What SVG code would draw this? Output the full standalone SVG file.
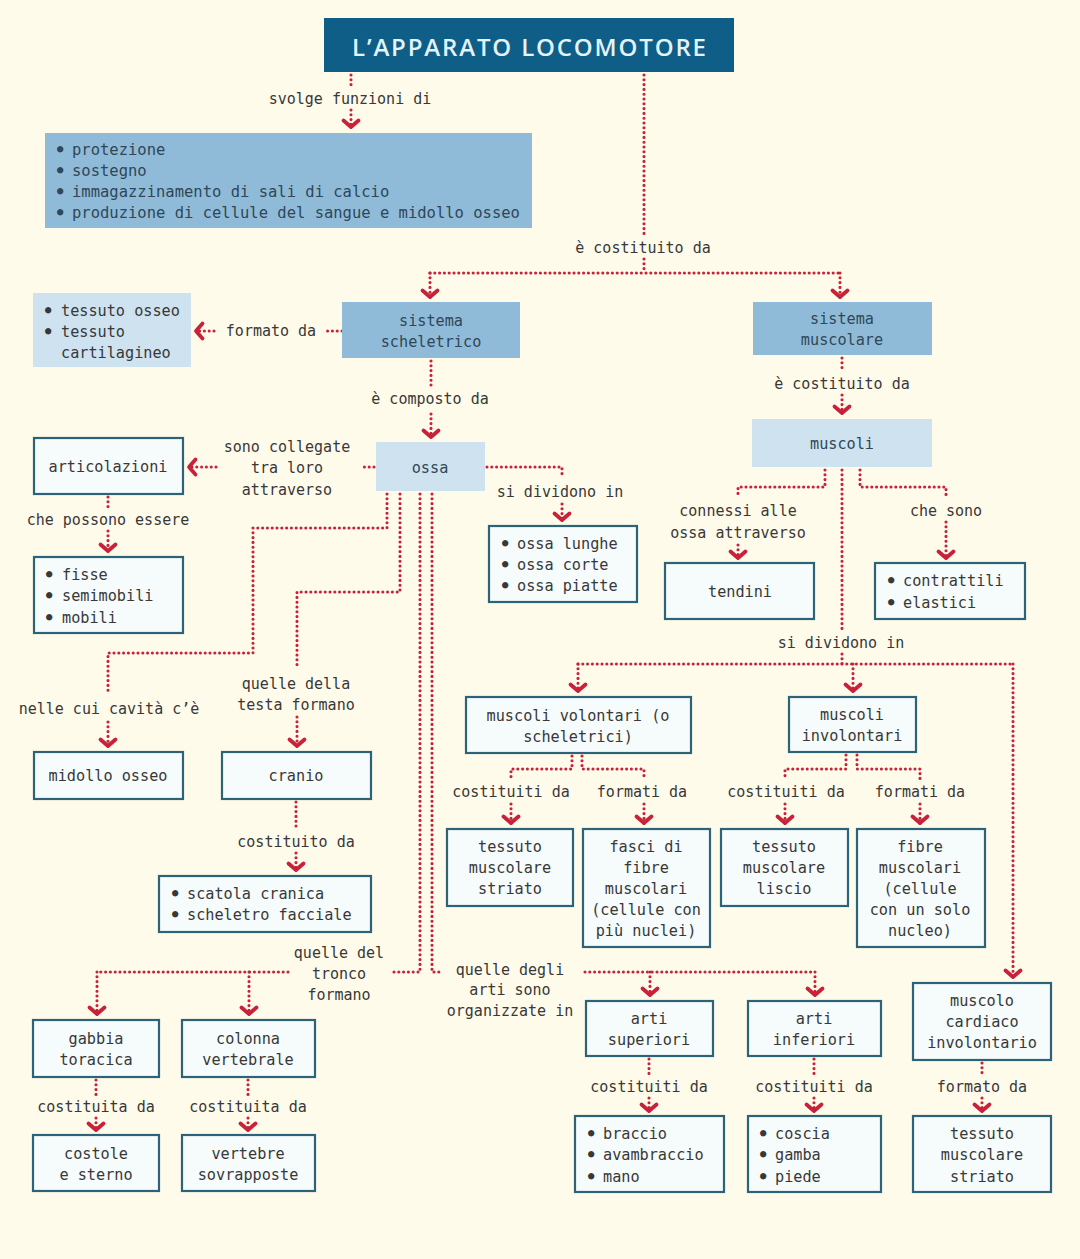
<svg xmlns="http://www.w3.org/2000/svg" width="1080" height="1259" viewBox="0 0 1080 1259">
<style>
.t{font-family:"DejaVu Sans Mono",monospace;font-size:15.2px;fill:#383838}
.lb{font-size:15px}
.m{text-anchor:middle}
.bt{fill:#2f4756}
.bu{font-size:10.5px}
.bw{fill:#f6fbfb;stroke:#2c6378;stroke-width:2.2}
.bm{fill:#8fbbd9}
.bl{fill:#cfe2ef}
.c{fill:none;stroke:#c8213a;stroke-width:3.1;stroke-dasharray:0 4.8;stroke-linecap:round}
.a{marker-end:url(#chev)}
.title{font-family:"Open Sans","DejaVu Sans",sans-serif;font-size:24px;font-weight:600;fill:#e3f3f7;text-anchor:middle}
</style>
<defs>
<marker id="chev" markerUnits="userSpaceOnUse" viewBox="-10 -10 12 20" markerWidth="12" markerHeight="20" refX="0" refY="0" orient="auto" overflow="visible">
<path d="M-7.5,-7.5 L-1,0 L-7.5,7.5" fill="none" stroke="#c8213a" stroke-width="3.8" stroke-dasharray="none" stroke-linecap="round" stroke-linejoin="round"/>
</marker>
</defs>
<rect x="0" y="0" width="1080" height="1259" fill="#fffbea"/>

<g id="connectors">
<path class="c" d="M351,75 L351,88"/>
<path class="c a" d="M351,110 L351,128"/>
<path class="c" d="M644,75 L644,236"/>
<path class="c" d="M644,259 L644,273"/>
<path class="c" d="M430,273 L840,273"/>
<path class="c a" d="M430,273 L430,298"/>
<path class="c a" d="M840,273 L840,298"/>
<path class="c" d="M342,331 L326,331"/>
<path class="c a" d="M214,331 L195,331"/>
<path class="c" d="M431,361 L431,386"/>
<path class="c a" d="M431,414 L431,438"/>
<path class="c" d="M374,467 L360,467"/>
<path class="c a" d="M216,467 L188,467"/>
<path class="c" d="M487,467 L562,467 L562,478"/>
<path class="c a" d="M562,504 L562,521"/>
<path class="c" d="M108,497 L108,508"/>
<path class="c a" d="M108,531 L108,552"/>
<path class="c" d="M387,494 L387,528 L253,528 L253,653 L108,653 L108,695"/>
<path class="c a" d="M108,722 L108,747"/>
<path class="c" d="M400,494 L400,592 L297,592 L297,668"/>
<path class="c a" d="M297,717 L297,747"/>
<path class="c" d="M296,802 L296,828"/>
<path class="c a" d="M296,853 L296,871"/>
<path class="c" d="M420,494 L420,972 L392,972"/>
<path class="c" d="M288,972 L97,972"/>
<path class="c a" d="M97,972 L97,1015"/>
<path class="c a" d="M249,972 L249,1015"/>
<path class="c" d="M432,494 L432,972 L440,972"/>
<path class="c" d="M585,972 L815,972"/>
<path class="c a" d="M650,972 L650,996"/>
<path class="c a" d="M815,972 L815,996"/>
<path class="c" d="M96,1080 L96,1095"/>
<path class="c a" d="M96,1118 L96,1131"/>
<path class="c" d="M248,1080 L248,1095"/>
<path class="c a" d="M248,1118 L248,1131"/>
<path class="c" d="M649,1059 L649,1075"/>
<path class="c a" d="M649,1098 L649,1112"/>
<path class="c" d="M814,1059 L814,1075"/>
<path class="c a" d="M814,1098 L814,1112"/>
<path class="c" d="M982,1063 L982,1075"/>
<path class="c a" d="M982,1098 L982,1112"/>
<path class="c" d="M842,358 L842,372"/>
<path class="c a" d="M842,395 L842,414"/>
<path class="c" d="M825,470 L825,487 L738,487 L738,498"/>
<path class="c a" d="M738,545 L738,559"/>
<path class="c" d="M860,470 L860,487 L946,487 L946,498"/>
<path class="c a" d="M946,522 L946,559"/>
<path class="c" d="M842,470 L842,630"/>
<path class="c" d="M842,654 L842,664"/>
<path class="c" d="M578,664 L1013,664"/>
<path class="c a" d="M578,664 L578,692"/>
<path class="c a" d="M853,664 L853,692"/>
<path class="c a" d="M1013,664 L1013,978"/>
<path class="c" d="M572,756 L572,769 L511,769 L511,780"/>
<path class="c a" d="M511,804 L511,824"/>
<path class="c" d="M582,756 L582,769 L644,769 L644,780"/>
<path class="c a" d="M644,804 L644,824"/>
<path class="c" d="M846,755 L846,769 L785,769 L785,780"/>
<path class="c a" d="M785,804 L785,824"/>
<path class="c" d="M857,755 L857,769 L920,769 L920,780"/>
<path class="c a" d="M920,804 L920,824"/>
</g>

<g id="labels" class="t lb m">
<text x="350" y="104">svolge funzioni di</text>
<text x="643" y="253">è costituito da</text>
<text x="271" y="336">formato da</text>
<text x="430" y="404">è composto da</text>
<text x="287" y="452">sono collegate</text>
<text x="287" y="473">tra loro</text>
<text x="287" y="495">attraverso</text>
<text x="560" y="497">si dividono in</text>
<text x="108" y="525">che possono essere</text>
<text x="109" y="714">nelle cui cavità c’è</text>
<text x="296" y="689">quelle della</text>
<text x="296" y="710">testa formano</text>
<text x="296" y="847">costituito da</text>
<text x="339" y="958">quelle del</text>
<text x="339" y="979">tronco</text>
<text x="339" y="1000">formano</text>
<text x="510" y="975">quelle degli</text>
<text x="510" y="995">arti sono</text>
<text x="510" y="1016">organizzate in</text>
<text x="96" y="1112">costituita da</text>
<text x="248" y="1112">costituita da</text>
<text x="649" y="1092">costituiti da</text>
<text x="814" y="1092">costituiti da</text>
<text x="982" y="1092">formato da</text>
<text x="842" y="389">è costituito da</text>
<text x="738" y="516">connessi alle</text>
<text x="738" y="538">ossa attraverso</text>
<text x="946" y="516">che sono</text>
<text x="841" y="648">si dividono in</text>
<text x="511" y="797">costituiti da</text>
<text x="642" y="797">formati da</text>
<text x="786" y="797">costituiti da</text>
<text x="920" y="797">formati da</text>
</g>

<g id="title">
<rect x="324" y="18" width="410" height="54" fill="#0e5e88"/>
<text class="title" x="529" y="56" textLength="354" lengthAdjust="spacing">L’APPARATO LOCOMOTORE</text>
</g>

<g id="funzioni">
<rect class="bm" x="45" y="133" width="487" height="95"/>
<g class="t bt" style="font-size:15.5px">
<text x="57" y="155"><tspan class="bu" dy="-3">●</tspan><tspan x="72" dy="3">protezione</tspan></text>
<text x="57" y="176"><tspan class="bu" dy="-3">●</tspan><tspan x="72" dy="3">sostegno</tspan></text>
<text x="57" y="197"><tspan class="bu" dy="-3">●</tspan><tspan x="72" dy="3">immagazzinamento di sali di calcio</tspan></text>
<text x="57" y="218"><tspan class="bu" dy="-3">●</tspan><tspan x="72" dy="3">produzione di cellule del sangue e midollo osseo</tspan></text>
</g>
</g>

<g id="sistema-scheletrico">
<rect class="bm" x="342" y="302" width="178" height="56"/>
<text class="t m bt" x="431" y="326">sistema</text>
<text class="t m bt" x="431" y="347">scheletrico</text>
</g>

<g id="sistema-muscolare">
<rect class="bm" x="753" y="302" width="179" height="53"/>
<text class="t m bt" x="842" y="324">sistema</text>
<text class="t m bt" x="842" y="345">muscolare</text>
</g>

<g id="tessuti">
<rect class="bl" x="33" y="293" width="158" height="74"/>
<g class="t">
<text x="45" y="316"><tspan class="bu" dy="-3">●</tspan><tspan x="61" dy="3">tessuto osseo</tspan></text>
<text x="45" y="337"><tspan class="bu" dy="-3">●</tspan><tspan x="61" dy="3">tessuto</tspan></text>
<text x="61" y="358">cartilagineo</text>
</g>
</g>

<g id="ossa">
<rect class="bl" x="376" y="442" width="109" height="49"/>
<text class="t m bt" x="430" y="473">ossa</text>
</g>

<g id="articolazioni">
<rect class="bw" x="34" y="438" width="149" height="56"/>
<text class="t m" x="108" y="472">articolazioni</text>
</g>

<g id="tipi-ossa">
<rect class="bw" x="489" y="526" width="148" height="76"/>
<g class="t">
<text x="502" y="549"><tspan class="bu" dy="-3">●</tspan><tspan x="517" dy="3">ossa lunghe</tspan></text>
<text x="502" y="570"><tspan class="bu" dy="-3">●</tspan><tspan x="517" dy="3">ossa corte</tspan></text>
<text x="502" y="591"><tspan class="bu" dy="-3">●</tspan><tspan x="517" dy="3">ossa piatte</tspan></text>
</g>
</g>

<g id="tipi-articolazioni">
<rect class="bw" x="34" y="557" width="149" height="76"/>
<g class="t">
<text x="46" y="580"><tspan class="bu" dy="-3">●</tspan><tspan x="62" dy="3">fisse</tspan></text>
<text x="46" y="601"><tspan class="bu" dy="-3">●</tspan><tspan x="62" dy="3">semimobili</tspan></text>
<text x="46" y="623"><tspan class="bu" dy="-3">●</tspan><tspan x="62" dy="3">mobili</tspan></text>
</g>
</g>

<g id="muscoli">
<rect class="bl" x="752" y="419" width="180" height="48"/>
<text class="t m bt" x="842" y="449">muscoli</text>
</g>

<g id="tendini">
<rect class="bw" x="665" y="563" width="149" height="56"/>
<text class="t m" x="740" y="597">tendini</text>
</g>

<g id="proprieta">
<rect class="bw" x="875" y="563" width="150" height="56"/>
<g class="t">
<text x="888" y="586"><tspan class="bu" dy="-3">●</tspan><tspan x="903" dy="3">contrattili</tspan></text>
<text x="888" y="608"><tspan class="bu" dy="-3">●</tspan><tspan x="903" dy="3">elastici</tspan></text>
</g>
</g>

<g id="midollo">
<rect class="bw" x="34" y="752" width="149" height="47"/>
<text class="t m" x="108" y="781">midollo osseo</text>
</g>

<g id="cranio">
<rect class="bw" x="222" y="752" width="149" height="47"/>
<text class="t m" x="296" y="781">cranio</text>
</g>

<g id="scatola">
<rect class="bw" x="159" y="876" width="212" height="56"/>
<g class="t">
<text x="172" y="899"><tspan class="bu" dy="-3">●</tspan><tspan x="187" dy="3">scatola cranica</tspan></text>
<text x="172" y="920"><tspan class="bu" dy="-3">●</tspan><tspan x="187" dy="3">scheletro facciale</tspan></text>
</g>
</g>

<g id="volontari">
<rect class="bw" x="466" y="697" width="225" height="56"/>
<text class="t m" x="578" y="721">muscoli volontari (o</text>
<text class="t m" x="578" y="742">scheletrici)</text>
</g>

<g id="involontari">
<rect class="bw" x="789" y="697" width="127" height="55"/>
<text class="t m" x="852" y="720">muscoli</text>
<text class="t m" x="852" y="741">involontari</text>
</g>

<g id="striato-volontari">
<rect class="bw" x="447" y="829" width="126" height="77"/>
<text class="t m" x="510" y="852">tessuto</text>
<text class="t m" x="510" y="873">muscolare</text>
<text class="t m" x="510" y="894">striato</text>
</g>

<g id="fasci">
<rect class="bw" x="583" y="829" width="127" height="118"/>
<text class="t m" x="646" y="852">fasci di</text>
<text class="t m" x="646" y="873">fibre</text>
<text class="t m" x="646" y="894">muscolari</text>
<text class="t m" x="646" y="915">(cellule con</text>
<text class="t m" x="646" y="936">più nuclei)</text>
</g>

<g id="liscio">
<rect class="bw" x="721" y="829" width="127" height="77"/>
<text class="t m" x="784" y="852">tessuto</text>
<text class="t m" x="784" y="873">muscolare</text>
<text class="t m" x="784" y="894">liscio</text>
</g>

<g id="fibre">
<rect class="bw" x="857" y="829" width="128" height="118"/>
<text class="t m" x="920" y="852">fibre</text>
<text class="t m" x="920" y="873">muscolari</text>
<text class="t m" x="920" y="894">(cellule</text>
<text class="t m" x="920" y="915">con un solo</text>
<text class="t m" x="920" y="936">nucleo)</text>
</g>

<g id="gabbia">
<rect class="bw" x="33" y="1020" width="126" height="57"/>
<text class="t m" x="96" y="1044">gabbia</text>
<text class="t m" x="96" y="1065">toracica</text>
</g>

<g id="colonna">
<rect class="bw" x="182" y="1020" width="133" height="57"/>
<text class="t m" x="248" y="1044">colonna</text>
<text class="t m" x="248" y="1065">vertebrale</text>
</g>

<g id="costole">
<rect class="bw" x="33" y="1135" width="126" height="56"/>
<text class="t m" x="96" y="1159">costole</text>
<text class="t m" x="96" y="1180">e sterno</text>
</g>

<g id="vertebre">
<rect class="bw" x="182" y="1135" width="133" height="56"/>
<text class="t m" x="248" y="1159">vertebre</text>
<text class="t m" x="248" y="1180">sovrapposte</text>
</g>

<g id="arti-superiori">
<rect class="bw" x="586" y="1001" width="127" height="55"/>
<text class="t m" x="649" y="1024">arti</text>
<text class="t m" x="649" y="1045">superiori</text>
</g>

<g id="arti-inferiori">
<rect class="bw" x="748" y="1001" width="133" height="55"/>
<text class="t m" x="814" y="1024">arti</text>
<text class="t m" x="814" y="1045">inferiori</text>
</g>

<g id="cardiaco">
<rect class="bw" x="913" y="983" width="138" height="77"/>
<text class="t m" x="982" y="1006">muscolo</text>
<text class="t m" x="982" y="1027">cardiaco</text>
<text class="t m" x="982" y="1048">involontario</text>
</g>

<g id="braccio">
<rect class="bw" x="575" y="1116" width="149" height="76"/>
<g class="t">
<text x="588" y="1139"><tspan class="bu" dy="-3">●</tspan><tspan x="603" dy="3">braccio</tspan></text>
<text x="588" y="1160"><tspan class="bu" dy="-3">●</tspan><tspan x="603" dy="3">avambraccio</tspan></text>
<text x="588" y="1182"><tspan class="bu" dy="-3">●</tspan><tspan x="603" dy="3">mano</tspan></text>
</g>
</g>

<g id="coscia">
<rect class="bw" x="748" y="1116" width="133" height="76"/>
<g class="t">
<text x="760" y="1139"><tspan class="bu" dy="-3">●</tspan><tspan x="775" dy="3">coscia</tspan></text>
<text x="760" y="1160"><tspan class="bu" dy="-3">●</tspan><tspan x="775" dy="3">gamba</tspan></text>
<text x="760" y="1182"><tspan class="bu" dy="-3">●</tspan><tspan x="775" dy="3">piede</tspan></text>
</g>
</g>

<g id="striato-cardiaco">
<rect class="bw" x="913" y="1116" width="138" height="76"/>
<text class="t m" x="982" y="1139">tessuto</text>
<text class="t m" x="982" y="1160">muscolare</text>
<text class="t m" x="982" y="1182">striato</text>
</g>
</svg>
